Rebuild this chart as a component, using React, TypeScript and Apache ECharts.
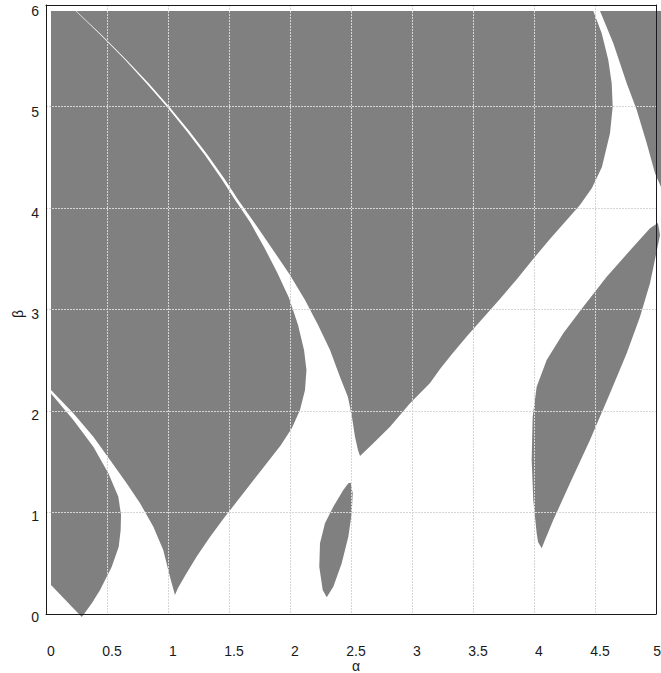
import React, { useEffect, useRef } from "react";
import * as echarts from "echarts";

// Gray regions of the (alpha, beta) plane, as [alpha, beta] boundary points.
const leftLobe: [number, number][] = [
  [0, 6], [0.202, 6], [0.407, 5.762], [0.601, 5.525], [0.780, 5.287], [0.952, 5.050],
  [1.111, 4.812], [1.261, 4.574], [1.398, 4.337], [1.509, 4.129], [1.631, 3.911],
  [1.746, 3.663], [1.852, 3.416], [1.951, 3.158], [2.025, 2.891], [2.074, 2.644],
  [2.094, 2.446], [2.082, 2.248], [2.041, 2.050], [1.975, 1.871], [1.885, 1.703],
  [1.770, 1.525], [1.648, 1.337], [1.533, 1.158], [1.418, 0.980], [1.303, 0.792],
  [1.197, 0.604], [1.107, 0.426], [1.041, 0.287], [1.016, 0.218], [0.975, 0.399],
  [0.920, 0.663], [0.839, 0.894], [0.730, 1.126], [0.620, 1.324], [0.484, 1.554],
  [0.347, 1.785], [0.183, 2.017], [0, 2.248],
];

const bottomLeftLobe: [number, number][] = [
  [0, 2.213], [0.183, 1.950], [0.347, 1.686], [0.470, 1.423], [0.552, 1.191],
  [0.574, 1.010], [0.571, 0.861], [0.555, 0.696], [0.498, 0.498], [0.402, 0.267],
  [0.336, 0.139], [0.265, 0.020], [0.252, 0], [0, 0.317],
];

const upperRegion: [number, number][] = [
  [0.207, 6], [4.445, 6], [4.514, 5.779], [4.568, 5.515], [4.596, 5.284], [4.604, 5.052],
  [4.582, 4.789], [4.516, 4.455], [4.434, 4.248], [4.336, 4.079], [4.213, 3.911],
  [4.090, 3.743], [3.959, 3.554], [3.820, 3.347], [3.680, 3.149], [3.549, 2.970],
  [3.418, 2.792], [3.287, 2.604], [3.189, 2.455], [3.107, 2.317], [2.943, 2.116],
  [2.779, 1.884], [2.642, 1.720], [2.533, 1.594], [2.516, 1.653], [2.492, 1.782],
  [2.467, 1.980], [2.434, 2.178], [2.369, 2.376], [2.287, 2.644], [2.189, 2.891],
  [2.082, 3.139], [1.959, 3.386], [1.820, 3.634], [1.680, 3.881], [1.535, 4.129],
  [1.423, 4.337], [1.284, 4.574], [1.133, 4.812], [0.971, 5.050], [0.798, 5.287],
  [0.611, 5.525], [0.415, 5.762],
];

const topRightSliver: [number, number][] = [
  [4.500, 6], [5, 6], [5, 4.257], [4.951, 4.393], [4.883, 4.690], [4.801, 5.020],
  [4.719, 5.284], [4.609, 5.680],
];

const rightLobe: [number, number][] = [
  [4.975, 3.901], [4.992, 3.782], [4.967, 3.634], [4.910, 3.304], [4.828, 2.973],
  [4.719, 2.611], [4.582, 2.215], [4.418, 1.752], [4.254, 1.324], [4.117, 0.960],
  [4.049, 0.762], [4.022, 0.680], [3.992, 0.743], [3.981, 0.829], [3.953, 1.158],
  [3.940, 1.554], [3.948, 1.983], [3.981, 2.280], [4.063, 2.545], [4.199, 2.809],
  [4.363, 3.072], [4.555, 3.369], [4.773, 3.666], [4.910, 3.849],
];

const smallLobe: [number, number][] = [
  [2.457, 1.330], [2.473, 1.225], [2.465, 1.027], [2.437, 0.795], [2.383, 0.532],
  [2.314, 0.300], [2.260, 0.195], [2.227, 0.267], [2.199, 0.498], [2.205, 0.730],
  [2.246, 0.928], [2.314, 1.092], [2.396, 1.257], [2.437, 1.324],
];

const regions = [leftLobe, bottomLeftLobe, upperRegion, topRightSliver, rightLobe, smallLobe];

const FONT = "Liberation Sans";
const TEXT_COLOR = "#1a1a1a";
const GRID_LINE = { show: true, lineStyle: { color: "#d6d6d6", width: 1, type: [2, 1] as any } };
const FRAME = { show: true, onZero: false, lineStyle: { color: "#1a1a1a", width: 1 } };

export default function App() {
  const ref = useRef<HTMLDivElement>(null);
  useEffect(() => {
    const chart = echarts.init(ref.current!, null, { renderer: "svg" });
    chart.setOption({
      animation: false,
      backgroundColor: "#ffffff",
      grid: [
        { left: 51, top: 11, width: 610, height: 606, containLabel: false, outerBoundsMode: "none" },
        { left: 46, top: 5, width: 610, height: 609, containLabel: false, outerBoundsMode: "none" },
      ],
      xAxis: [
        {
          gridIndex: 0, type: "value", min: 0, max: 5, interval: 0.5,
          axisLine: { show: false }, axisTick: { show: false }, splitLine: { show: false },
          axisLabel: {
            margin: 27, fontSize: 14, lineHeight: 14, fontWeight: "normal", color: TEXT_COLOR, fontFamily: FONT,
            showMinLabel: true, showMaxLabel: true, alignMaxLabel: "right",
          },
          name: "α", nameLocation: "middle", nameGap: 42, nameMoveOverlap: false,
          nameTextStyle: { fontSize: 14, lineHeight: 13, fontWeight: "normal", color: TEXT_COLOR, fontFamily: FONT },
        },
        {
          gridIndex: 1, type: "value", min: 0, max: 5, interval: 0.5, position: "bottom", z: 10,
          axisLine: FRAME, axisTick: { show: false }, axisLabel: { show: false }, splitLine: GRID_LINE,
        },
        {
          gridIndex: 1, type: "value", min: 0, max: 5, interval: 0.5, position: "top", z: 10,
          axisLine: FRAME, axisTick: { show: false }, axisLabel: { show: false }, splitLine: { show: false },
        },
      ],
      yAxis: [
        {
          gridIndex: 0, type: "value", min: 0, max: 6, interval: 1,
          axisLine: { show: false }, axisTick: { show: false }, splitLine: { show: false },
          axisLabel: {
            margin: 12, fontSize: 14, fontWeight: "normal", color: TEXT_COLOR, fontFamily: FONT,
            padding: [7, 0, 0, 0], showMinLabel: true, showMaxLabel: true,
          },
          name: "β", nameLocation: "middle", nameGap: 26, nameRotate: 90, nameMoveOverlap: false,
          nameTextStyle: { fontSize: 14, fontWeight: "normal", color: TEXT_COLOR, fontFamily: FONT },
        },
        {
          gridIndex: 1, type: "value", min: 0, max: 6, interval: 1, position: "left", z: 10,
          axisLine: FRAME, axisTick: { show: false }, axisLabel: { show: false }, splitLine: GRID_LINE,
        },
        {
          gridIndex: 1, type: "value", min: 0, max: 6, interval: 1, position: "right", z: 10,
          axisLine: FRAME, axisTick: { show: false }, axisLabel: { show: false }, splitLine: { show: false },
        },
      ],
      series: [
        {
          type: "custom",
          coordinateSystem: "cartesian2d",
          xAxisIndex: 0,
          yAxisIndex: 0,
          z: 2,
          silent: true,
          data: regions.map(() => [0, 0]),
          renderItem: (params: any, api: any) => {
            const pts = regions[params.dataIndex].map((p) => api.coord(p));
            return {
              type: "polygon",
              shape: { points: pts },
              style: { fill: "#808080" },
            };
          },
        },
      ],
    });
    return () => chart.dispose();
  }, []);
  return (
    <div
      ref={ref}
      style={{ position: "fixed", left: 0, top: 0, width: 661, height: 673, background: "#fff" }}
    />
  );
}
